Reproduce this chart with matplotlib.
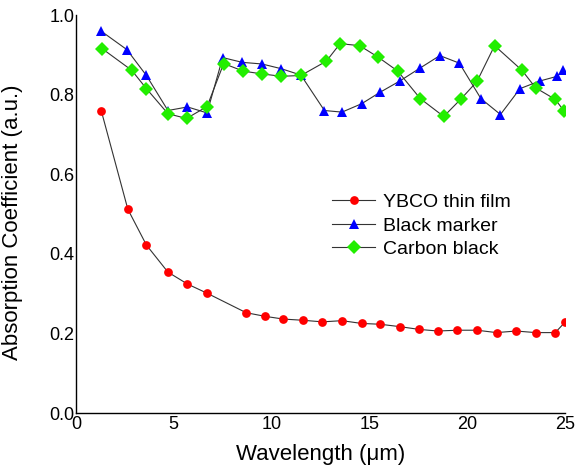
import numpy as np
import matplotlib.pyplot as plt

plt.rcParams['font.family'] = ['Liberation Sans', 'DejaVu Sans']

# Wavelength (um) and absorption coefficient
ybco_x = [1.3, 2.65, 3.6, 4.7, 5.7, 6.7, 8.7, 9.65, 10.6, 11.6, 12.6, 13.6,
          14.6, 15.55, 16.55, 17.55, 18.5, 19.5, 20.5, 21.5, 22.5, 23.5, 24.5, 25.0]
ybco_y = [0.758, 0.512, 0.422, 0.354, 0.324, 0.301, 0.252, 0.243, 0.236, 0.233,
          0.229, 0.232, 0.225, 0.223, 0.217, 0.210, 0.206, 0.208, 0.208, 0.202,
          0.206, 0.202, 0.202, 0.228]

black_x = [1.3, 2.6, 3.6, 4.7, 5.7, 6.7, 7.5, 8.5, 9.5, 10.5, 11.5, 12.7, 13.6,
           14.6, 15.55, 16.55, 17.6, 18.6, 19.6, 20.7, 21.7, 22.7, 23.7, 24.6, 24.9]
black_y = [0.959, 0.913, 0.848, 0.760, 0.769, 0.754, 0.893, 0.881, 0.877, 0.865,
           0.849, 0.760, 0.756, 0.777, 0.806, 0.834, 0.867, 0.898, 0.879, 0.790,
           0.750, 0.815, 0.834, 0.846, 0.861]

carbon_x = [1.35, 2.85, 3.6, 4.7, 5.65, 6.7, 7.55, 8.55, 9.5, 10.5, 11.5, 12.8,
            13.5, 14.5, 15.45, 16.45, 17.6, 18.8, 19.7, 20.5, 21.4, 22.8, 23.5, 24.5, 24.95]
carbon_y = [0.915, 0.861, 0.815, 0.752, 0.740, 0.770, 0.878, 0.859, 0.852, 0.846,
            0.848, 0.884, 0.928, 0.923, 0.894, 0.859, 0.790, 0.745, 0.790, 0.833,
            0.923, 0.861, 0.817, 0.788, 0.759]

fig = plt.figure(figsize=(5.76, 4.70), dpi=100)
ax = fig.add_axes([76/576, 1 - 413/470, (565 - 76)/576, (413 - 15)/470])

line_kw = dict(color='#333333', lw=0.8, markeredgewidth=0)
ax.plot(ybco_x, ybco_y, marker='o', ms=6.3, markerfacecolor='#ff0000',
        label='YBCO thin film', **line_kw)
ax.plot(black_x, black_y, marker='^', ms=7.8, markerfacecolor='#0000ff',
        label='Black marker', **line_kw)
ax.plot(carbon_x, carbon_y, marker='D', ms=7.0, markerfacecolor='#22ee00',
        label='Carbon black', **line_kw)

ax.set_xlim(0, 25)
ax.set_ylim(0, 1.0)
ax.set_xticks([0, 5, 10, 15, 20, 25])
ax.set_yticks(np.arange(0, 1.01, 0.2))
ax.set_yticklabels(['0.0', '0.2', '0.4', '0.6', '0.8', '1.0'])
ax.tick_params(length=0, labelsize=13, pad=1)
ax.tick_params(axis='x', pad=2)

for s in ['top', 'right']:
    ax.spines[s].set_visible(False)
for s in ['left', 'bottom']:
    ax.spines[s].set_linewidth(1.0)

ax.set_xlabel('Wavelength (\u03bcm)', fontsize=16, labelpad=8)
ax.set_ylabel('Absorption Coefficient (a.u.)', fontsize=16)
ax.yaxis.set_label_coords(-0.108, 0.48)

ax.legend(loc='upper left', bbox_to_anchor=(0.488, 0.595), frameon=False,
          fontsize=14, handlelength=2.2, handletextpad=0.4, labelspacing=0.3)

fig.savefig('out.png', dpi=100)
